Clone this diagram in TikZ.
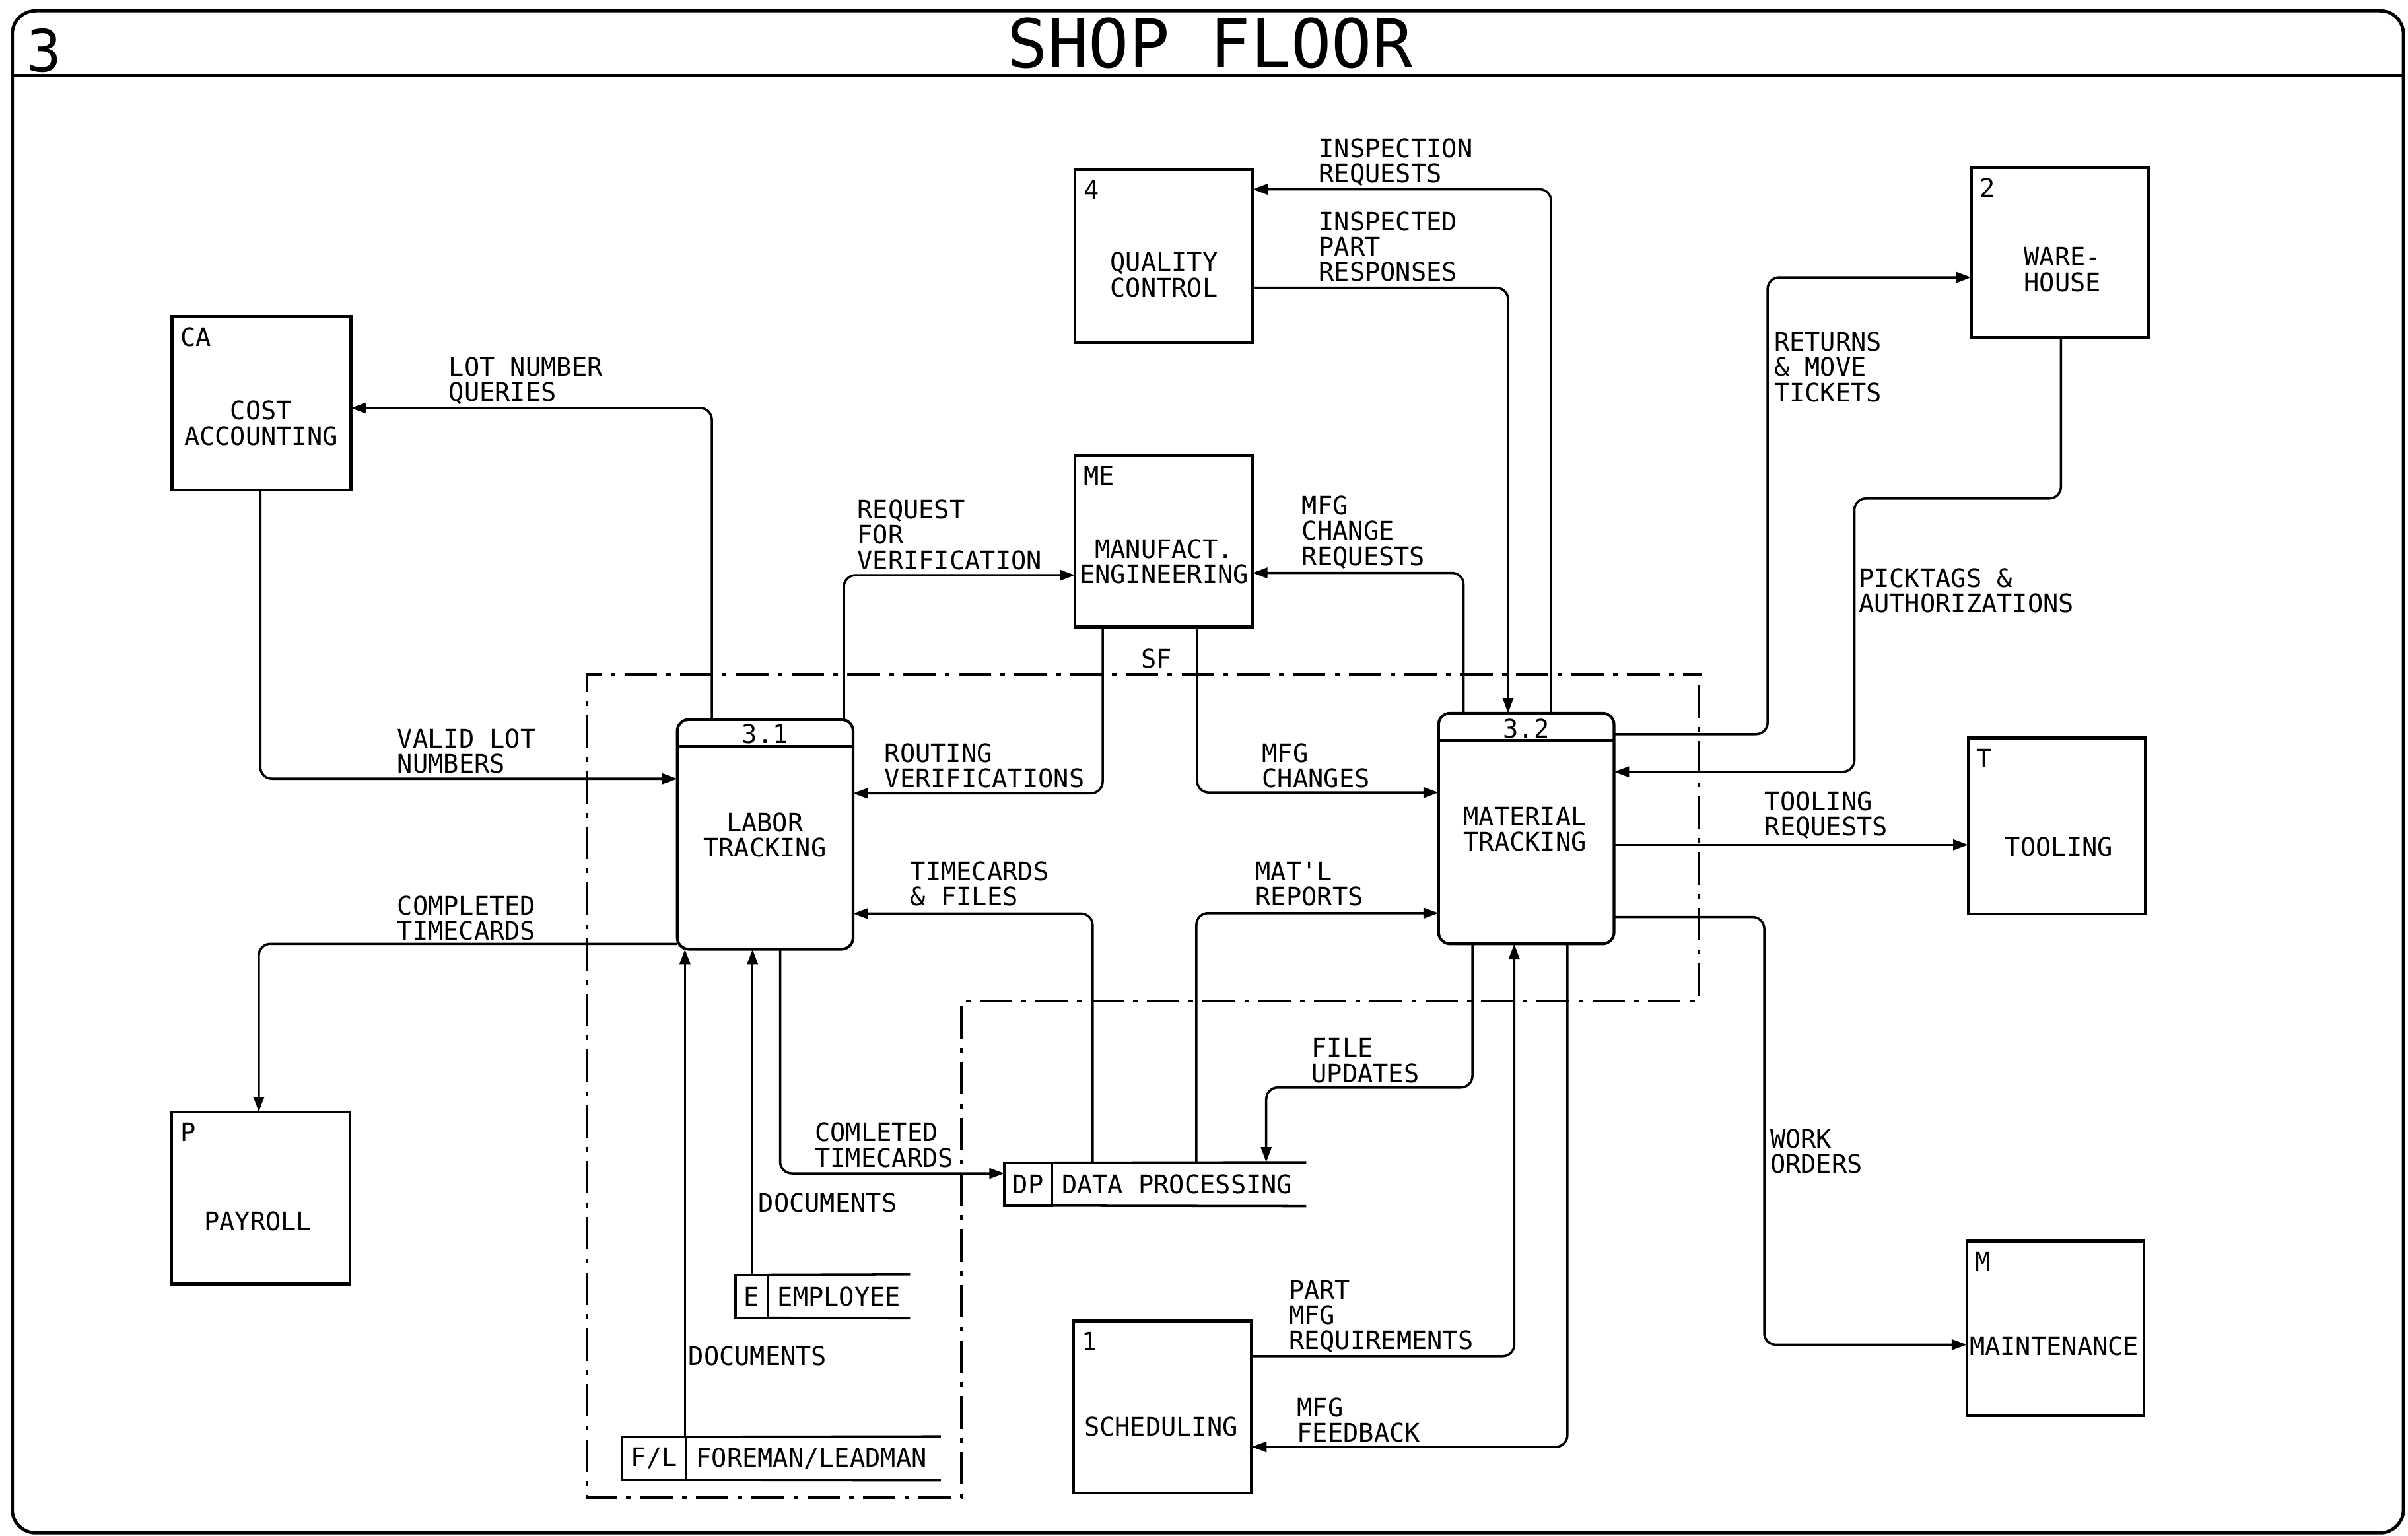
\documentclass[tikz,border=0pt]{standalone}
\usepackage{fontspec}
\setmonofont{DejaVu Sans Mono}
\newfontfamily\titlefont{DejaVu Sans Mono}
\usetikzlibrary{arrows.meta,calc}
\begin{document}
\begin{tikzpicture}[x=0.02326cm,y=-0.02326cm,
  font=\ttfamily\fontsize{11}{10.9}\selectfont,
  sz/.style 2 args={minimum width=#1*0.02326cm,minimum height=#2*0.02326cm},
  ext/.style={draw,line width=1.3pt,inner sep=0pt,outer sep=0pt},
  proc/.style={draw,line width=1.2pt,rounded corners=5pt,inner sep=0pt,outer sep=0pt},
  sbox/.style={draw,line width=1pt,inner sep=0pt,outer sep=0pt},
  sline/.style={line width=1pt},
  flow/.style={line width=1pt,rounded corners=5pt,-{Triangle[length=6.5pt,width=4.5pt]}},
  lbl/.style={align=left,anchor=west,inner sep=0pt},
  btxt/.style={align=center,inner sep=0pt},
  corner/.style={anchor=north west,inner xsep=3.5pt,inner ysep=4.5pt},
  bound/.style={line width=1pt,dash pattern=on 14pt off 4pt on 2pt off 4pt},
  frame/.style={line width=1.4pt}
]
\useasboundingbox (0,0) rectangle (1568,1000);

% frame and title
\draw[frame,rounded corners=10pt] (8,7) rectangle (1565,998);
\draw[frame] (8,49) -- (1565,49);
\node[font=\titlefont\fontsize{29}{30}\selectfont,inner sep=0pt] (title) at (788,28) {SHOP FLOOR};
\node[font=\titlefont\fontsize{25}{26}\selectfont,inner sep=0pt] (num) at (29,33) {3};

% external entities
\node[ext,sz={116.6}{112.8}] (ca) at (170.3,262.6) {};
\node[corner] (caid) at (ca.north west) {CA};
\node[btxt] (cat) at (170,275.5) {COST\\ACCOUNTING};

\node[ext,sz={115.6}{112.6}] (qc) at (757.8,166.7) {};
\node[corner] (qcid) at (qc.north west) {4};
\node[btxt] (qct) at (758,178.8) {QUALITY\\CONTROL};

\node[ext,sz={115.5}{111.5}] (me) at (757.75,352.45) {};
\node[corner] (meid) at (me.north west) {ME};
\node[btxt] (met) at (758,365.5) {MANUFACT.\\ENGINEERING};

\node[ext,sz={115.4}{110.7}] (wh) at (1341.3,164.35) {};
\node[corner] (whid) at (wh.north west) {2};
\node[btxt] (wht) at (1343,175.5) {WARE-\\HOUSE};

\node[ext,sz={115.4}{114.5}] (tl) at (1339.3,537.75) {};
\node[corner] (tlid) at (tl.north west) {T};
\node[btxt] (tlt) at (1340.7,551.4) {TOOLING};

\node[ext,sz={115.3}{113.5}] (mt) at (1338.35,864.75) {};
\node[corner] (mtid) at (mt.north west) {M};
\node[btxt] (mtt) at (1337.6,876.6) {MAINTENANCE};

\node[ext,sz={116.1}{112}] (py) at (169.85,780) {};
\node[corner] (pyid) at (py.north west) {P};
\node[btxt] (pyt) at (168,795) {PAYROLL};

\node[ext,sz={116}{112}] (sc) at (757,916) {};
\node[corner] (scid) at (sc.north west) {1};
\node[btxt] (sct) at (756,928.9) {SCHEDULING};

% processes
\node[proc,sz={114.5}{149.5}] (lt) at (498.25,543.25) {};
\draw[line width=1.2pt] (lt.west |- 0,486) -- (lt.east |- 0,486);
\node[inner sep=0pt] (ltid) at (498.25,478) {3.1};
\node[btxt] (ltt) at (498,543.5) {LABOR\\TRACKING};

\node[proc,sz={114.3}{150.2}] (mk) at (993.85,539.4) {};
\draw[line width=1.2pt] (mk.west |- 0,482) -- (mk.east |- 0,482);
\node[inner sep=0pt] (mkid) at (993.85,474.6) {3.2};
\node[btxt] (mkt) at (993,540) {MATERIAL\\TRACKING};

% data stores
\node[sbox,sz={31}{28}] (dpid) at (669.5,771) {DP};
\node[anchor=west,inner sep=0pt,sz={165}{28}] (dp) at (dpid.east) {};
\node[anchor=west,inner sep=0pt] (dpt) at ([xshift=4pt]dp.west) {DATA PROCESSING};
\draw[sline] (dpid.north east) -- (dp.north east) (dpid.south east) -- (dp.south east);

\node[sbox,sz={21}{28}] (eid) at (489.5,844) {E};
\node[anchor=west,inner sep=0pt,sz={92}{28}] (emp) at (eid.east) {};
\node[anchor=west,inner sep=0pt] (empt) at ([xshift=4pt]emp.west) {EMPLOYEE};
\draw[sline] (eid.north east) -- (emp.north east) (eid.south east) -- (emp.south east);

\node[sbox,sz={42}{28}] (flid) at (426,949.5) {F/L};
\node[anchor=west,inner sep=0pt,sz={165}{28}] (fl) at (flid.east) {};
\node[anchor=west,inner sep=0pt] (flt) at ([xshift=4pt]fl.west) {FOREMAN/LEADMAN};
\draw[sline] (flid.north east) -- (fl.north east) (flid.south east) -- (fl.south east);

% SF boundary
\draw[bound] (1106,446) -- (1106,652) -- (626,652) -- (626,975) -- (382,975) -- (382,439) -- (1108,439);
\node[inner sep=0pt] (sf) at (753,429) {SF};

% flows
\draw[flow] (463.5,0 |- lt.north) -- (463.5,265.7) -- (ca.east |- 0,265.7);
\node[lbl] (f1) at (292,248) {LOT NUMBER\\QUERIES};

\draw[flow] (169.5,0 |- ca.south) -- (169.5,507) -- (lt.west |- 0,507);
\node[lbl] (f2) at (258.5,489) {VALID LOT\\NUMBERS};

\draw[flow] (1010,0 |- mk.north) -- (1010,123.2) -- (qc.east |- 0,123.2);
\node[lbl] (f3) at (858.5,105.5) {INSPECTION\\REQUESTS};

\draw[flow] (qc.east |- 0,187.3) -- (982,187.3) -- (982,0 |- mk.north);
\node[lbl] (f4) at (858.5,160.5) {INSPECTED\\PART\\RESPONSES};

\draw[flow] (549.5,0 |- lt.north) -- (549.5,374.5) -- (me.west |- 0,374.5);
\node[lbl] (f5) at (558,348.2) {REQUEST\\FOR\\VERIFICATION};

\draw[flow] (953,0 |- mk.north) -- (953,373) -- (me.east |- 0,373);
\node[lbl] (f6) at (847.5,346.5) {MFG\\CHANGE\\REQUESTS};

\draw[flow] (718,0 |- me.south) -- (718,516.5) -- (lt.east |- 0,516.5);
\node[lbl] (f7) at (575.7,498.5) {ROUTING\\VERIFICATIONS};

\draw[flow] (779.5,0 |- me.south) -- (779.5,516) -- (mk.west |- 0,516);
\node[lbl] (f8) at (821.6,498.5) {MFG\\CHANGES};

\draw[flow] (mk.east |- 0,478) -- (1151,478) -- (1151,180.6) -- (wh.west |- 0,180.6);
\node[lbl] (f9) at (1155,239) {RETURNS\\\& MOVE\\TICKETS};

\draw[flow] (1342,0 |- wh.south) -- (1342,324.5) -- (1207.5,324.5) -- (1207.5,502.5) -- (mk.east |- 0,502.5);
\node[lbl] (f10) at (1210,384.6) {PICKTAGS \&\\AUTHORIZATIONS};

\draw[flow] (mk.east |- 0,550) -- (tl.west |- 0,550);
\node[lbl] (f11) at (1148.8,530.7) {TOOLING\\REQUESTS};

\draw[flow] (mk.east |- 0,597) -- (1148.8,597) -- (1148.8,875.5) -- (mt.west |- 0,875.5);
\node[lbl] (f12) at (1152.4,749.5) {WORK\\ORDERS};

\draw[flow] (lt.west |- 0,614.5) -- (168.5,614.5) -- (168.5,0 |- py.north);
\node[lbl] (f13) at (258.4,597.8) {COMPLETED\\TIMECARDS};

\draw[flow] (711.5,0 |- dp.north) -- (711.5,594.8) -- (lt.east |- 0,594.8);
\node[lbl] (f14) at (592.5,575.4) {TIMECARDS\\\& FILES};

\draw[flow] (779,0 |- dp.north) -- (779,594.5) -- (mk.west |- 0,594.5);
\node[lbl] (f15) at (817.3,575.4) {MAT'L\\REPORTS};

\draw[flow] (958.8,0 |- mk.south) -- (958.8,708) -- (824.5,708) -- (824.5,0 |- dp.north);
\node[lbl] (f16) at (853.8,690.5) {FILE\\UPDATES};

\draw[flow] (508,0 |- lt.south) -- (508,764) -- (dpid.west |- 0,764);
\node[lbl] (f17) at (530.4,745.5) {COMLETED\\TIMECARDS};

\draw[flow] (490,0 |- eid.north) -- (490,0 |- lt.south);
\node[lbl] (f18) at (493.6,783) {DOCUMENTS};

\draw[flow] (446,0 |- flid.north) -- (446,0 |- lt.south);
\node[lbl] (f19) at (448,882.7) {DOCUMENTS};

\draw[flow] (sc.east |- 0,883) -- (986,883) -- (986,0 |- mk.south);
\node[lbl] (f20) at (839,857.3) {PART\\MFG\\REQUIREMENTS};

\draw[flow] (1020.6,0 |- mk.south) -- (1020.6,942) -- (sc.east |- 0,942);
\node[lbl] (f21) at (844.4,924.6) {MFG\\FEEDBACK};
\end{tikzpicture}
\end{document}
